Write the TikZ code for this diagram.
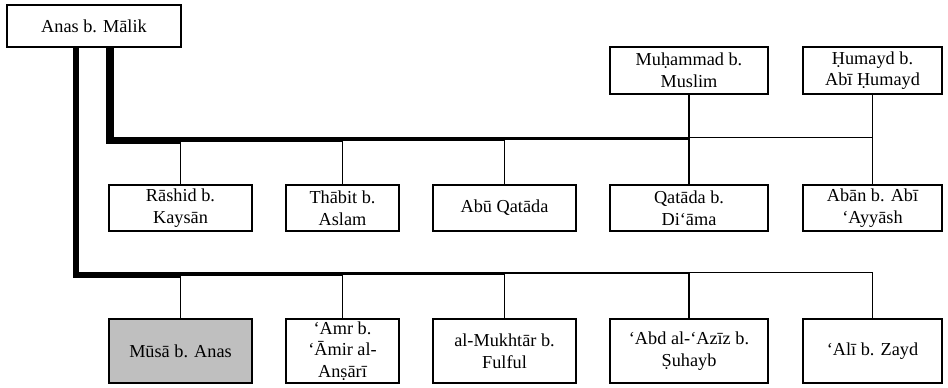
\documentclass[tikz,border=0pt]{standalone}
\usepackage{fontspec}
\setmainfont{Liberation Serif}
\newcommand\boxfnt{\fontsize{13.7pt}{16.2pt}\selectfont}
\begin{document}
\begin{tikzpicture}[x=0.75pt,y=-0.75pt,
  box/.style={draw, line width=0.9pt, inner sep=0pt, align=center, font=\boxfnt},
  rowA/.style={box, minimum height=34.5pt},
  rowB/.style={box, minimum height=48pt},
  topbox/.style={box, minimum height=35.25pt},
  wA/.style={minimum width=107.25pt},
  wB/.style={minimum width=84.75pt},
  wC/.style={minimum width=118.5pt},
  wD/.style={minimum width=104.25pt},
  stem/.style={line width=1pt, line cap=butt},
  trunk/.style={line cap=butt, line join=miter}]
\useasboundingbox (0,0) rectangle (948,387);

% nodes
\node[box, minimum width=130.5pt, minimum height=31.5pt] (anas) at (94,26) {Anas b. Mālik};
\node[topbox, wC] (muh) at (689,70.5) {Muḥammad b.\\Muslim};
\node[topbox, wD] (hum) at (872.5,70.5) {Ḥumayd b.\\Abī Ḥumayd};

\node[rowA, wA] (rashid) at (180.5,208) {Rāshid b.\\Kaysān};
\node[rowA, wB] (thabit) at (342.5,208) {Thābit b.\\Aslam};
\node[rowA, wA] (abuq) at (504.5,208) {Abū Qatāda};
\node[rowA, wC] (qatada) at (689,208) {Qatāda b.\\Di‘āma};
\node[rowA, wD] (aban) at (872.5,208) {Abān b. Abī\\‘Ayyāsh};

\node[rowB, wA, fill=black!25] (musa) at (180.5,351) {Mūsā b. Anas};
\node[rowB, wB] (amr) at (342.5,351) {‘Amr b.\\‘Āmir al-\\Anṣārī};
\node[rowB, wA] (mukh) at (504.5,351) {al-Mukhtār b.\\Fulful};
\node[rowB, wC] (abd) at (689,351) {‘Abd al-‘Azīz b.\\Ṣuhayb};
\node[rowB, wD] (ali) at (872.5,351) {‘Alī b. Zayd};

% upper line junctions
\coordinate (ua) at (110,47);
\coordinate (uy0) at (0,140.25);
\coordinate (uy1) at (0,139);
\coordinate (uy2) at (0,138.5);
\coordinate (uy3) at (0,138);
\coordinate (uy4) at (0,137.25);
\coordinate (ujr) at (rashid.north |- uy4);
\coordinate (ujt) at (thabit.north |- uy4);
\coordinate (uja) at (abuq.north |- uy4);
\coordinate (ujq) at (qatada.north |- uy4);
\coordinate (ujb) at (aban.north |- uy4);

\draw[trunk, line width=5.6pt] (ua) -- (ua |- uy0) -- (ujr |- uy0);
\draw[trunk, line width=3.75pt] (ujr |- uy1) -- (ujt |- uy1);
\draw[trunk, line width=3pt] (ujt |- uy2) -- (uja |- uy2);
\draw[trunk, line width=2.25pt] (uja |- uy3) -- (ujq |- uy3);
\draw[trunk, line width=1.1pt] (ujq |- uy4) -- (ujb |- uy4);

\draw[stem] (ujr) -- (rashid.north);
\draw[stem] (ujt) -- (thabit.north);
\draw[stem] (uja) -- (abuq.north);
\draw[stem] (muh.south) -- (qatada.north);
\draw[stem] (hum.south) -- (aban.north);

% lower line junctions
\coordinate (la) at (76,47);
\coordinate (ly0) at (0,275);
\coordinate (ly1) at (0,274);
\coordinate (ly2) at (0,273.5);
\coordinate (ly3) at (0,273);
\coordinate (ly4) at (0,272.75);
\coordinate (ljm) at (musa.north |- ly4);
\coordinate (lja) at (amr.north |- ly4);
\coordinate (ljk) at (mukh.north |- ly4);
\coordinate (ljd) at (abd.north |- ly4);
\coordinate (ljl) at (ali.north |- ly4);

\draw[trunk, line width=4.5pt] (la) -- (la |- ly0) -- (ljm |- ly0);
\draw[trunk, line width=3pt] (ljm |- ly1) -- (lja |- ly1);
\draw[trunk, line width=2.25pt] (lja |- ly2) -- (ljk |- ly2);
\draw[trunk, line width=1.5pt] (ljk |- ly3) -- (ljd |- ly3);
\draw[trunk, line width=1.1pt] (ljd |- ly4) -- (ljl |- ly4);
\draw[stem] ([yshift=-0.5pt]ljl) -- (ali.north);

\draw[stem] (ljm) -- (musa.north);
\draw[stem] (lja) -- (amr.north);
\draw[stem] (ljk) -- (mukh.north);
\draw[stem] (ljd) -- (abd.north);
\end{tikzpicture}
\end{document}
